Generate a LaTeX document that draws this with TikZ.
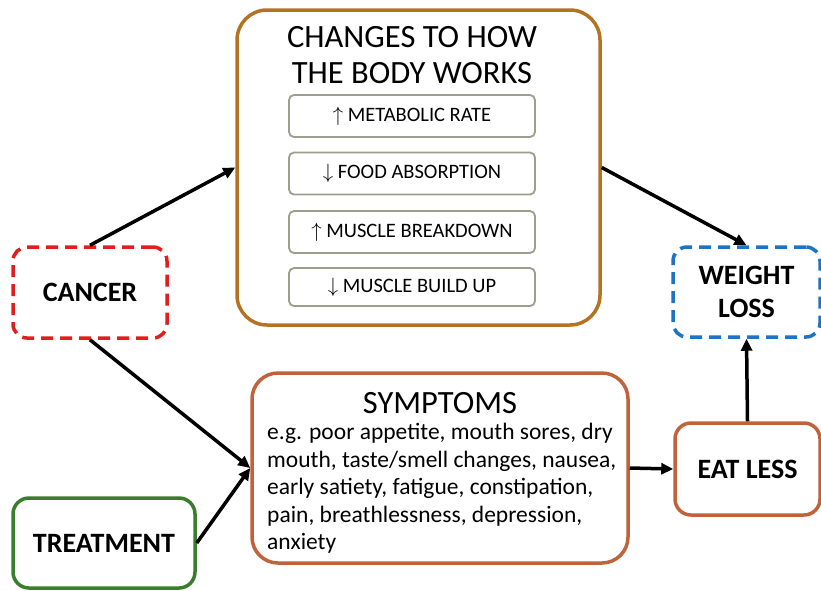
\documentclass[tikz,border=0pt]{standalone}
\usepackage{fontspec}
\setmainfont{Carlito}
\usetikzlibrary{arrows.meta, positioning}
\definecolor{bodybrown}{RGB}{180,115,35}
\definecolor{innergrey}{RGB}{155,160,140}
\definecolor{cancerred}{RGB}{225,30,30}
\definecolor{treatgreen}{RGB}{58,125,44}
\definecolor{symporange}{RGB}{192,98,58}
\definecolor{lossblue}{RGB}{30,115,195}
\begin{document}
\begin{tikzpicture}[
    x=1pt, y=-1pt,
    >={Triangle[length=12pt, width=11pt]},
    box/.style={draw, line width=3.5pt, fill=white, rectangle, inner sep=0pt, align=center},
    inbox/.style={draw=innergrey, line width=1.8pt, rounded corners=5pt, minimum width=246pt, minimum height=42pt, inner sep=0pt, font=\fontsize{20.5}{24}\selectfont},
    bigtxt/.style={font=\fontsize{32.5}{36}\selectfont, align=center},
    bold/.style={font=\fontsize{28}{33}\selectfont\bfseries},
    link/.style={->, line width=3.5pt},
]
\useasboundingbox (0,0) rectangle (821,590);
\node[box, draw=bodybrown, rounded corners=30pt, minimum width=363pt, minimum height=315pt] (changes) at (418.5,167.5) {};
\node[bigtxt] (title) at (412,55) {CHANGES TO HOW\\THE BODY WORKS};
\node[inbox] (metab) at (412,116) {$\uparrow$ METABOLIC RATE};
\node[inbox] (absorb) at (412,173.5) {$\downarrow$ FOOD ABSORPTION};
\node[inbox] (breakdown) at (412,232) {$\uparrow$ MUSCLE BREAKDOWN};
\node[inbox, minimum height=38pt] (buildup) at (412,287) {$\downarrow$ MUSCLE BUILD UP};

\node[box, bold, draw=cancerred, dash pattern=on 12pt off 7pt, rounded corners=14pt, minimum width=154pt, minimum height=91pt] (cancer) at (90,292.5) {CANCER};
\node[box, bold, draw=treatgreen, rounded corners=16pt, minimum width=182pt, minimum height=90pt] (treatment) at (104,543) {TREATMENT};

\node[box, draw=symporange, rounded corners=26pt, minimum width=376pt, minimum height=190pt] (symptoms) at (440,468) {};
\node[bigtxt] (symptitle) at (440,403) {SYMPTOMS};
\node[font=\fontsize{23.5}{27.5}\selectfont, align=left, anchor=north west, inner sep=0pt] (symplist) at (267,423)
    {e.g. poor appetite, mouth sores, dry\\mouth, taste/smell changes, nausea,\\early satiety, fatigue, constipation,\\pain, breathlessness, depression,\\anxiety};

\node[box, bold, draw=lossblue, dash pattern=on 12pt off 7pt, rounded corners=14pt, minimum width=147pt, minimum height=90pt] (loss) at (746.5,292) {WEIGHT\\LOSS};
\node[box, bold, draw=symporange, rounded corners=16pt, minimum width=145pt, minimum height=92pt] (eatless) at (747.5,469) {EAT LESS};

\draw[link] (cancer.north) -- (changes.west);
\draw[link] (cancer.south) -- (symptoms.west);
\draw[link] (treatment.east) -- (symptoms.west);
\draw[link] (changes.east) -- (loss.north);
\draw[link] (symptoms.east) -- (eatless.west);
\draw[link] (eatless.north) -- (loss.south);
\end{tikzpicture}
\end{document}
